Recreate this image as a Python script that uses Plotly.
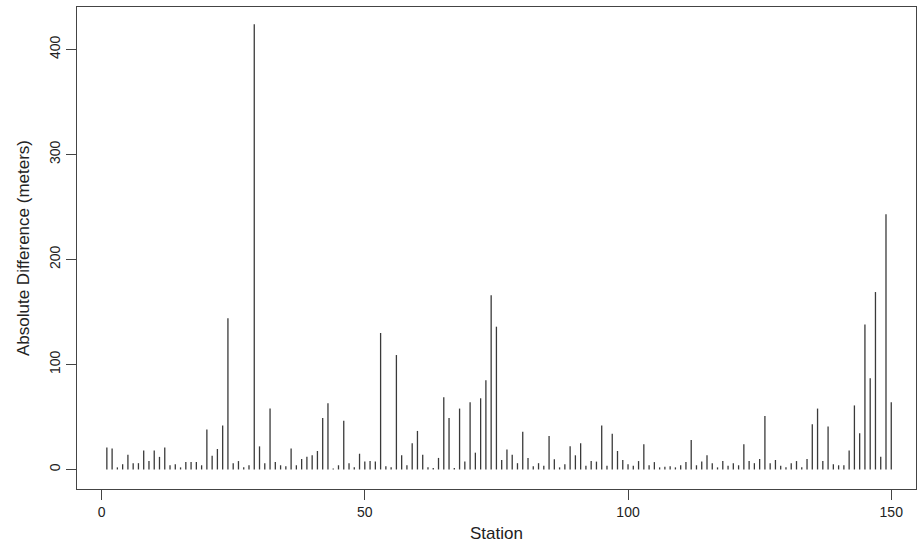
import plotly.graph_objects as go

stations = list(range(1, 151))
diff = [
    21, 20, 2, 5, 14, 6, 6, 18, 8, 18,
    12, 21, 4, 5, 2, 7, 7, 7, 4, 38,
    13, 19.5, 42, 144, 6, 8, 2, 4, 424, 22,
    6, 58, 7, 4, 3, 20, 4, 10, 12, 13.5,
    17.6, 49, 63, 1, 4, 46.5, 6, 2, 15, 7.5,
    8, 7.5, 130, 3, 2, 109, 13.5, 4, 25, 36.7,
    14, 2, 1.5, 11, 68.7, 49, 1.5, 58, 7.5, 64,
    16, 67.8, 85, 166, 136, 9, 19, 14, 6, 36,
    11, 3, 6, 3.5, 32, 9.7, 2, 5, 22, 13.5,
    25, 3.5, 8, 7.5, 42, 3.5, 34, 17.6, 9, 5,
    3.5, 8, 24, 4, 7, 2, 2.7, 3, 2, 4,
    7, 28, 4, 7.5, 13.5, 6, 2, 8, 3.5, 6,
    4, 24, 8, 6, 10, 51, 6, 9, 3.5, 2,
    6, 8, 2, 10, 43, 58, 8, 41, 5, 4,
    4, 18, 61, 34.5, 138, 87, 169, 12, 243, 64,
]
x_ticks = [0, 50, 100, 150]
y_ticks = [0, 100, 200, 300, 400]

# build vertical "type='h'" segments from the data
xs, ys = [], []
for s, d in zip(stations, diff):
    xs += [s, s, None]
    ys += [0, d, None]

fig = go.Figure()
fig.add_trace(go.Scatter(x=xs, y=ys, mode="lines",
                         line=dict(color="#3a3a3a", width=1.3),
                         hoverinfo="skip", showlegend=False))

font_family = "Liberation Sans, Arial, sans-serif"
fig.update_layout(
    width=918, height=544,
    margin=dict(l=77, r=2, t=7, b=55),
    paper_bgcolor="white", plot_bgcolor="white",
    font=dict(family=font_family, color="#222", size=13),
    xaxis=dict(range=[-4.67, 154.7], tickvals=x_ticks, ticks="outside",
               ticklen=10, tickcolor="#444", showgrid=False, zeroline=False,
               showline=True, linecolor="#444", linewidth=1, mirror=True,
               tickfont=dict(size=14),
               title=dict(text="Station", font=dict(size=17), standoff=8)),
    yaxis=dict(range=[-18.6, 440.5], tickvals=y_ticks, ticks="outside",
               ticklen=10, tickcolor="#444", showgrid=False, zeroline=False,
               showline=True, linecolor="#444", linewidth=1, mirror=True,
               tickangle=-90, tickfont=dict(size=14),
               title=dict(text="Absolute Difference (meters)", font=dict(size=17),
                          standoff=13)),
)

fig.write_html("out.html")
